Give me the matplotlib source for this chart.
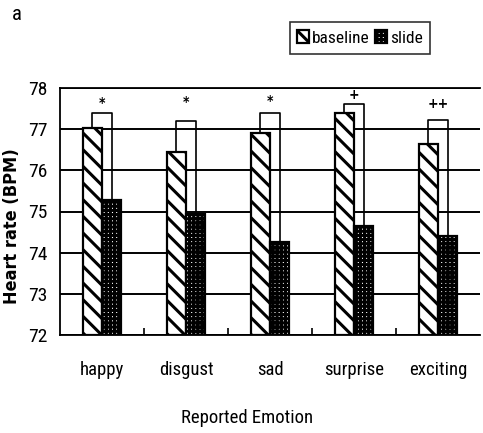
import matplotlib
matplotlib.use("Agg")
import matplotlib.pyplot as plt
import matplotlib.font_manager as fm
import numpy as np

# pick the narrowest sans font available (the reference uses a condensed face)
narrow_name, narrow_stretch = None, 'normal'
priority = ['liberation sans narrow', 'roboto condensed', 'open sans condensed',
            'noto sans condensed', 'dejavu sans condensed']
best = None
for f in fm.fontManager.ttflist:
    fn = f.fname.lower()
    if any(k in fn for k in ['bold', 'italic', 'oblique', 'light', 'thin', 'medium', 'black', 'semi', 'extra']):
        continue
    key = (f.name + ' ' + fn).lower()
    for rank, p in enumerate(priority):
        if p.replace(' ', '') in key.replace(' ', '').replace('-', '').replace('_', ''):
            if best is None or rank < best[0]:
                best = (rank, f.name, f.stretch)
if best is not None:
    narrow_name, narrow_stretch = best[1], best[2]
else:
    narrow_name = 'Liberation Sans'

plt.rcParams['font.family'] = [narrow_name, 'Liberation Sans', 'DejaVu Sans']
plt.rcParams['font.stretch'] = narrow_stretch
plt.rcParams['hatch.linewidth'] = 2.2

categories = ["happy", "disgust", "sad", "surprise", "exciting"]
baseline = [77.04, 76.44, 76.90, 77.40, 76.63]
slide = [75.28, 74.93, 74.27, 74.65, 74.41]
bracket_top = [77.40, 77.19, 77.39, 77.62, 77.22]
sig_marks = ["*", "*", "*", "+", "++"]
sig_y = [77.64, 77.66, 77.69, 77.82, 77.60]
yticks = [72, 73, 74, 75, 76, 77, 78]

fig = plt.figure(figsize=(4.83, 4.33), dpi=100)
ax = fig.add_axes([60/483, 1-335/433, 420/483, 247/433])

x = np.arange(len(categories))
w = 0.23
ax.bar(x - w/2, [b - 72 for b in baseline], w, bottom=72, facecolor='white',
       edgecolor='black', hatch='\\\\', linewidth=1.6, zorder=3, label='baseline')
ax.bar(x + w/2, [s - 72 for s in slide], w, bottom=72, facecolor='white',
       edgecolor='black', hatch='++++', linewidth=1.6, zorder=3, label='slide')

for i in range(len(categories)):
    xl, xr = x[i] - w/2, x[i] + w/2
    ax.plot([xl, xl, xr, xr], [baseline[i], bracket_top[i], bracket_top[i], slide[i]],
            color='black', lw=1.2, zorder=4)
    ax.text(x[i], sig_y[i], sig_marks[i], ha='center', va='center', fontsize=10,
            fontweight='bold', family='DejaVu Sans')

ax.set_xlim(-0.5, 4.5)
ax.set_ylim(72, 78)
ax.set_yticks(yticks)
ax.set_yticklabels([str(t) for t in yticks], fontsize=14)
ax.tick_params(axis='y', length=0, pad=9)
ax.set_xticks(x)
ax.set_xticklabels(categories, fontsize=13.5)
ax.tick_params(axis='x', which='major', length=0, pad=19)
ax.set_xticks(np.arange(0.5, 4.5, 1), minor=True)
ax.tick_params(axis='x', which='minor', direction='in', length=5, width=1.2)

ax.yaxis.grid(True, color='black', lw=1.4, zorder=0)
ax.set_axisbelow(True)
ax.spines['right'].set_visible(False)
for s in ['top', 'left', 'bottom']:
    ax.spines[s].set_linewidth(1.3)

ax.set_xlabel("Reported Emotion", fontsize=13.5)
ax.xaxis.set_label_coords((247-60)/420, (335-418)/247)
ax.xaxis.label.set_va('center')
ax.set_ylabel("Heart rate (BPM)", fontsize=13, fontweight='bold', family='DejaVu Sans')
ax.yaxis.set_label_coords((12-60)/420, (335-226)/247)
ax.yaxis.label.set_va('center')

leg = fig.legend(loc='center', bbox_to_anchor=(360/483, 1-38/433), ncol=2, fontsize=12.5,
                 frameon=True, fancybox=False, edgecolor='black', handlelength=0.7,
                 handleheight=0.8, handletextpad=0.15, columnspacing=0.3,
                 borderpad=0.45, borderaxespad=0)
leg.get_frame().set_linewidth(1.2)
leg.get_frame().set_edgecolor('black')

fig.text(12/483, 1-15/433, "a", fontsize=15, ha='left', va='center')

fig.savefig("out.png", dpi=100)
